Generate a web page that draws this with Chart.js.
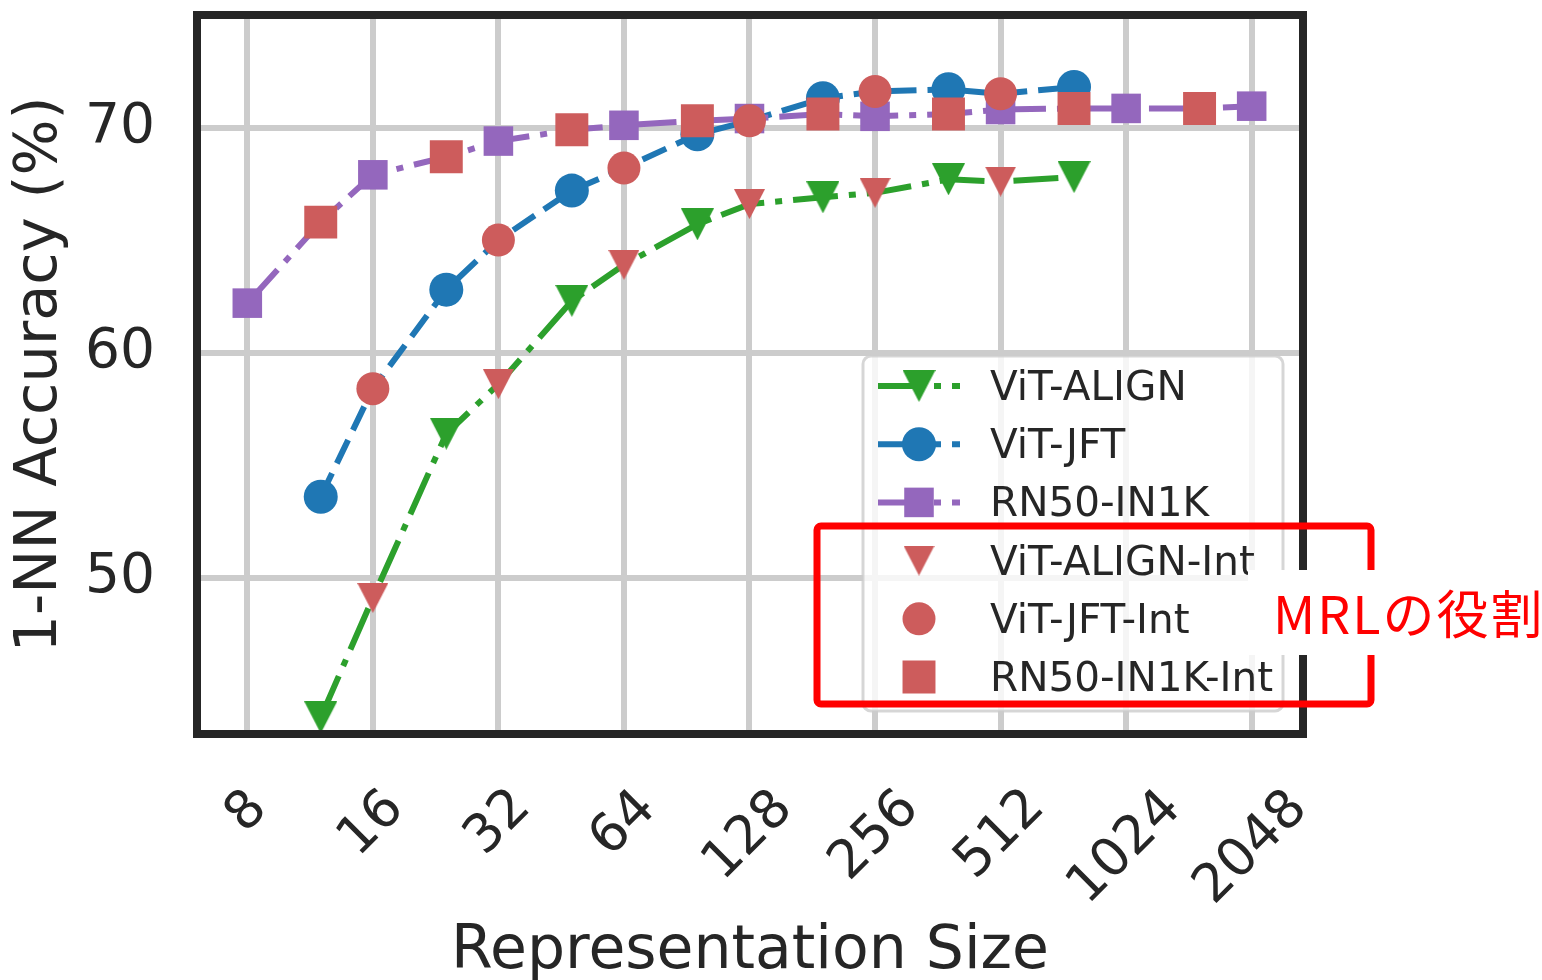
<!DOCTYPE html>
<html>
<head>
<meta charset="utf-8">
<script src="https://cdn.jsdelivr.net/npm/chart.js@4.4.1/dist/chart.umd.min.js"></script>
<style>
  html, body { margin: 0; padding: 0; background: #ffffff; }
  canvas { display: block; }
</style>
</head>
<body>
<canvas id="chart" width="1542" height="980"></canvas>
<script>
// Representation sizes (log2 axis) and tick labels
const xTicks = [8, 16, 32, 64, 128, 256, 512, 1024, 2048];
const yTicks = [50, 60, 70];

// Sizes with trained (nested) representations
const vitSizes = [12, 24, 48, 96, 192, 384, 768];
const rnSizes = [8, 16, 32, 64, 128, 256, 512, 1024, 2048];
// Sizes evaluated by interpolation
const vitIntSizes = [16, 32, 64, 128, 256, 512];
const rnIntSizes = [12, 24, 48, 96, 192, 384, 768, 1536];

// 1-NN accuracy (%)
const vitAlign = [43.8, 56.4, 62.3, 65.7, 66.9, 67.7, 67.8];
const vitJft = [53.6, 62.8, 67.2, 69.7, 71.3, 71.7, 71.8];
const rn50 = [62.2, 67.9, 69.4, 70.1, 70.4, 70.5, 70.8, 70.85, 70.95];
const vitAlignInt = [49.1, 58.6, 63.9, 66.6, 67.1, 67.6];
const vitJftInt = [58.4, 65.0, 68.2, 70.3, 71.6, 71.5];
const rn50Int = [65.8, 68.7, 69.9, 70.3, 70.6, 70.6, 70.85, 70.85];

const GREEN = '#2ca02c';
const BLUE = '#1f77b4';
const PURPLE = '#9467bd';
const INDIANRED = '#cd5c5c';
const TEXT = '#262626';
const FONT = "'DejaVu Sans'";

const LW = 6;
const DASH_DOT = [45, 11, 7, 11];
const DASHED = [26, 11];

// Down-pointing triangle marker, centred on its bounding box
function triangleDown(w, h, color) {
  const c = document.createElement('canvas');
  c.width = w; c.height = h;
  const g = c.getContext('2d');
  g.fillStyle = color;
  g.beginPath();
  g.moveTo(0, 0); g.lineTo(w, 0); g.lineTo(w / 2, h); g.closePath();
  g.fill();
  return c;
}
const triGreen = triangleDown(33, 32, GREEN);
const triRed = triangleDown(31, 30, INDIANRED);

function points(sizes, vals, mark) {
  return sizes.map((s, i) => ({ x: s, y: vals[i], mark: mark }));
}
// The curve runs through every evaluated size; markers only on trained sizes
function curve(sizes, vals, intSizes, intVals) {
  return points(sizes, vals, true).concat(points(intSizes, intVals, false))
    .sort((a, b) => a.x - b.x);
}

function lineSet(label, data, color, dash, style, radius, order) {
  return {
    label, data, order,
    borderColor: color, backgroundColor: color,
    borderWidth: LW, borderDash: dash, tension: 0, fill: false,
    pointStyle: style,
    pointRadius: c => (c.raw && c.raw.mark ? radius : 0),
    pointBackgroundColor: color, pointBorderWidth: 0,
    markerRadius: radius
  };
}
function markerSet(label, data, style, radius, order) {
  return {
    label, data, order, showLine: false,
    borderColor: INDIANRED, backgroundColor: INDIANRED,
    pointStyle: style, pointRadius: radius,
    pointBackgroundColor: INDIANRED, pointBorderWidth: 0,
    markerRadius: radius
  };
}

const datasets = [
  lineSet('ViT-ALIGN', curve(vitSizes, vitAlign, vitIntSizes, vitAlignInt), GREEN, DASH_DOT, triGreen, 16, 6),
  lineSet('ViT-JFT', curve(vitSizes, vitJft, vitIntSizes, vitJftInt), BLUE, DASHED, 'circle', 17, 5),
  lineSet('RN50-IN1K', curve(rnSizes, rn50, rnIntSizes, rn50Int), PURPLE, DASH_DOT, 'rect', 20.9, 4),
  markerSet('ViT-ALIGN-Int', points(vitIntSizes, vitAlignInt), triRed, 16, 3),
  markerSet('ViT-JFT-Int', points(vitIntSizes, vitJftInt), 'circle', 16.5, 2),
  markerSet('RN50-IN1K-Int', points(rnIntSizes, rn50Int), 'rect', 23.3, 1)
];

// Frame around the plotting area
const framePlugin = {
  id: 'frame',
  afterDatasetsDraw(chart) {
    const { ctx, chartArea: a } = chart;
    ctx.save();
    ctx.strokeStyle = TEXT;
    ctx.lineWidth = 8;
    ctx.lineJoin = 'miter';
    ctx.strokeRect(a.left, a.top, a.right - a.left, a.bottom - a.top);
    ctx.restore();
  }
};

// Rotated size labels, centred under each tick
const xLabelPlugin = {
  id: 'xlabels',
  afterDraw(chart) {
    const { ctx } = chart;
    const sx = chart.scales.x;
    ctx.save();
    ctx.font = `53px ${FONT}`;
    ctx.fillStyle = TEXT;
    ctx.textAlign = 'left';
    ctx.textBaseline = 'alphabetic';
    const top = chart.chartArea.bottom + 50;
    xTicks.forEach(v => {
      const t = String(v);
      const m = ctx.measureText(t);
      const w = m.actualBoundingBoxRight + m.actualBoundingBoxLeft;
      const h = m.actualBoundingBoxAscent + m.actualBoundingBoxDescent;
      const ext = (w + h) / Math.SQRT2;
      const cx = sx.getPixelForValue(v) - 4;
      const cy = top + ext / 2;
      const xc = (m.actualBoundingBoxRight - m.actualBoundingBoxLeft) / 2;
      const yc = (m.actualBoundingBoxDescent - m.actualBoundingBoxAscent) / 2;
      ctx.save();
      ctx.translate(cx, cy);
      ctx.rotate(-Math.PI / 4);
      ctx.fillText(t, -xc, -yc);
      ctx.restore();
    });
    ctx.restore();
  }
};

// Legend box with line + marker handles
const legendPlugin = {
  id: 'boxLegend',
  afterDraw(chart) {
    const { ctx } = chart;
    const box = { x: 863, y: 356, w: 420, h: 355 };
    ctx.save();
    ctx.beginPath();
    ctx.roundRect(box.x, box.y, box.w, box.h, 8);
    ctx.fillStyle = 'rgba(255,255,255,0.8)';
    ctx.fill();
    ctx.lineWidth = 3;
    ctx.strokeStyle = 'rgba(204,204,204,0.8)';
    ctx.stroke();

    const rowY0 = 386, rowStep = 58.2;
    const hx0 = 878, hx1 = 960, mx = 919, tx = 990;
    chart.data.datasets.forEach((ds, i) => {
      const y = rowY0 + i * rowStep;
      if (ds.showLine !== false) {
        ctx.save();
        ctx.strokeStyle = ds.borderColor;
        ctx.lineWidth = ds.borderWidth;
        ctx.setLineDash(ds.borderDash || []);
        ctx.beginPath();
        ctx.moveTo(hx0, y); ctx.lineTo(hx1, y);
        ctx.stroke();
        ctx.restore();
      }
      ctx.save();
      ctx.fillStyle = ds.pointBackgroundColor;
      Chart.helpers.drawPoint(ctx, {
        pointStyle: ds.pointStyle, radius: ds.markerRadius, rotation: 0, borderWidth: 0
      }, mx, y);
      ctx.restore();

      ctx.font = `40.5px ${FONT}`;
      ctx.fillStyle = TEXT;
      ctx.textAlign = 'left';
      ctx.textBaseline = 'alphabetic';
      ctx.fillText(ds.label, tx, y + 14);
    });
    ctx.restore();
  }
};

// Highlight around the interpolated entries, with its caption
const notePlugin = {
  id: 'note',
  afterDraw(chart) {
    const { ctx } = chart;
    ctx.save();
    ctx.beginPath();
    ctx.roundRect(817, 526, 554, 178, 4);
    ctx.lineWidth = 7;
    ctx.strokeStyle = '#ff0000';
    ctx.stroke();
    ctx.fillStyle = '#ffffff';
    ctx.fillRect(1248, 570, 294, 85);
    ctx.fillStyle = '#ff0000';
    ctx.font = "52px 'Noto Sans CJK JP'";
    ctx.letterSpacing = '2px';
    ctx.textAlign = 'left';
    ctx.textBaseline = 'alphabetic';
    ctx.fillText('MRLの役割', 1273, 634);
    ctx.restore();
  }
};

new Chart(document.getElementById('chart'), {
  type: 'line',
  data: { datasets },
  options: {
    responsive: false,
    animation: false,
    devicePixelRatio: 1,
    events: [],
    layout: { autoPadding: false, padding: { top: 15, left: 0, right: 239, bottom: 0 } },
    plugins: { legend: { display: false }, tooltip: { enabled: false } },
    scales: {
      x: {
        type: 'logarithmic',
        min: 6.06,
        max: 2719,
        afterBuildTicks: s => { s.ticks = xTicks.map(v => ({ value: v })); },
        afterFit: s => { s.height = 246; s.paddingLeft = 0; s.paddingRight = 0; },
        ticks: { display: false },
        grid: { color: '#cccccc', lineWidth: 6, drawTicks: false },
        border: { display: false },
        title: {
          display: true,
          text: 'Representation Size',
          color: TEXT,
          font: { family: FONT, size: 60, lineHeight: 1 },
          padding: { top: 0, bottom: -2 }
        }
      },
      y: {
        type: 'linear',
        min: 43.06,
        max: 75,
        afterBuildTicks: s => { s.ticks = yTicks.map(v => ({ value: v })); },
        afterFit: s => { s.width = 197; s.paddingTop = 0; s.paddingBottom = 0; },
        ticks: {
          color: TEXT,
          padding: 42,
          font: { family: FONT, size: 55 },
          callback: v => String(v)
        },
        grid: { color: '#cccccc', lineWidth: 6, drawTicks: false },
        border: { display: false },
        title: {
          display: true,
          text: '1-NN Accuracy (%)',
          color: TEXT,
          font: { family: FONT, size: 59, lineHeight: 1.2 },
          padding: { top: 5, bottom: 0 }
        }
      }
    }
  },
  plugins: [framePlugin, xLabelPlugin, legendPlugin, notePlugin]
});
</script>
</body>
</html>
